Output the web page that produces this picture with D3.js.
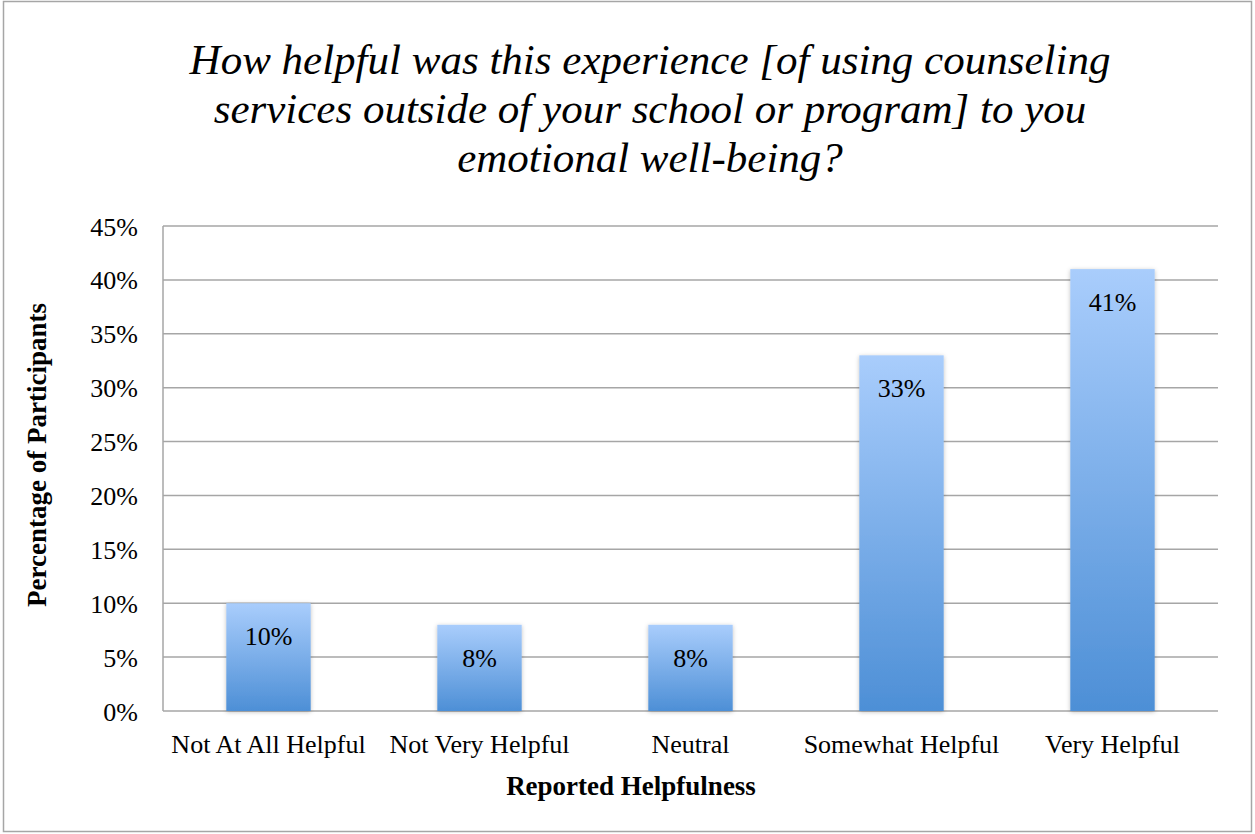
<!DOCTYPE html>
<html><head><meta charset="utf-8">
<script src="https://cdn.jsdelivr.net/npm/d3@7"></script>
<style>body{margin:0;background:#fff}svg{display:block}text{font-family:"Liberation Serif","Times New Roman",serif;fill:#000}</style>
</head><body>
<svg id="c" width="1255" height="834"></svg>
<script>
const titleLines = ["How helpful was this experience [of using counseling","services outside of your school or program] to you","emotional well-being?"];
const categories = ["Not At All Helpful","Not Very Helpful","Neutral","Somewhat Helpful","Very Helpful"];
const values = [10, 8, 8, 33, 41];
const labels = ["10%","8%","8%","33%","41%"];
const yTicks = [0,5,10,15,20,25,30,35,40,45];
const yTitle = "Percentage of Participants";
const xTitle = "Reported Helpfulness";

const svg = d3.select("#c");
svg.append("rect").attr("x",3.5).attr("y",1.5).attr("width",1248).attr("height",830)
  .attr("fill","#fff").attr("stroke","#a6a6a6").attr("stroke-width",1.5);

const defs = svg.append("defs");
const g = defs.append("linearGradient").attr("id","bg").attr("x1",0).attr("y1",0).attr("x2",0).attr("y2",1);
g.append("stop").attr("offset","0%").attr("stop-color","#a9cdfc");
g.append("stop").attr("offset","100%").attr("stop-color","#4d8fd6");
const f = defs.append("filter").attr("id","sh").attr("x","-20%").attr("y","-20%").attr("width","140%").attr("height","140%");
f.append("feDropShadow").attr("dx",0).attr("dy",1).attr("stdDeviation",2).attr("flood-color","#000").attr("flood-opacity",0.25);

const L=163, R=1218, T=226, B=711;
const x = d3.scaleBand().domain(categories).range([L,R]).paddingInner(0.6).paddingOuter(0.3);
const y = d3.scaleLinear().domain([0,45]).range([B,T]);

svg.append("g").selectAll("text").data(titleLines).join("text")
  .attr("x",650).attr("y",(d,i)=>74+i*49).attr("text-anchor","middle")
  .style("font-style","italic").style("font-size","43px").text(d=>d);

const grid = svg.append("g");
grid.selectAll("line").data(yTicks).join("line")
  .attr("x1",L).attr("x2",R).attr("y1",d=>y(d)).attr("y2",d=>y(d))
  .attr("stroke","#a6a6a6").attr("stroke-width",1.5);
svg.append("line").attr("x1",L).attr("x2",L).attr("y1",T).attr("y2",B).attr("stroke","#a6a6a6").attr("stroke-width",1.5);

const yAxis = svg.append("g").attr("transform",`translate(${L},0)`)
  .call(d3.axisLeft(y).tickValues(yTicks).tickFormat(d=>d+"%").tickSize(0).tickPadding(25));
yAxis.select(".domain").remove();
yAxis.selectAll("text").style("font-size","26px").attr("font-family",null).attr("dy","0.35em");

svg.append("g").selectAll("rect").data(values).join("rect")
  .attr("x",(d,i)=>x(categories[i])).attr("width",x.bandwidth())
  .attr("y",d=>y(d)).attr("height",d=>B-y(d))
  .attr("fill","url(#bg)").attr("filter","url(#sh)");

svg.append("g").selectAll("text").data(values).join("text")
  .attr("x",(d,i)=>x(categories[i])+x.bandwidth()/2).attr("y",d=>y(d)+42)
  .attr("text-anchor","middle").style("font-size","26px").text((d,i)=>labels[i]);

const xAxis = svg.append("g").attr("transform",`translate(0,${B})`)
  .call(d3.axisBottom(x).tickSize(0).tickPadding(24));
xAxis.select(".domain").remove();
xAxis.selectAll("text").style("font-size","26px").attr("font-family",null);

svg.append("text").attr("x",631).attr("y",795).attr("text-anchor","middle")
  .style("font-weight","bold").style("font-size","27px").text(xTitle);
svg.append("text").attr("transform","translate(46,455) rotate(-90)").attr("text-anchor","middle")
  .style("font-weight","bold").style("font-size","27px").text(yTitle);
</script>
</body></html>
